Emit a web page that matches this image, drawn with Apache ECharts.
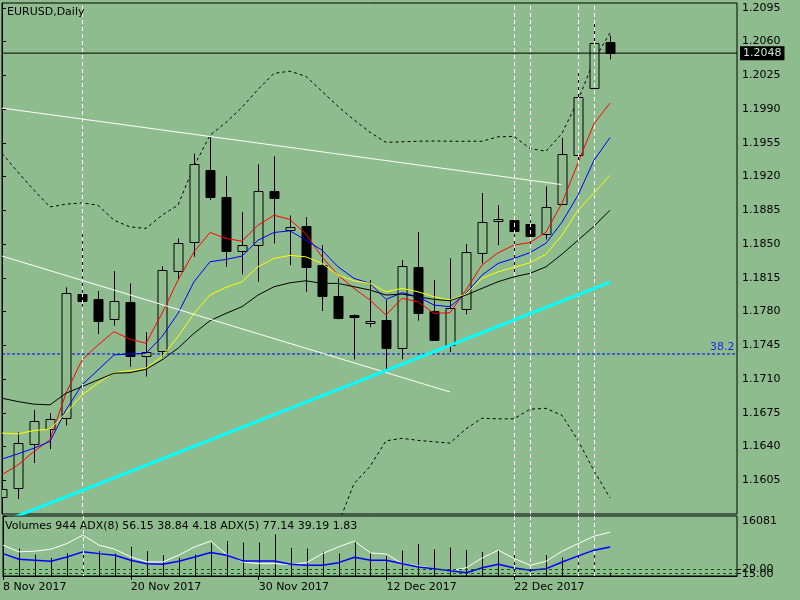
<!DOCTYPE html>
<html><head><meta charset="utf-8">
<script src="https://cdn.jsdelivr.net/npm/echarts@6/dist/echarts.min.js"></script>
<style>html,body{margin:0;padding:0;background:#8FBC8F}#c{width:800px;height:600px}</style>
</head><body><div id="c"></div><script>
// ---- data ----
const dates = ['8 Nov 2017','9 Nov 2017','10 Nov 2017','13 Nov 2017','14 Nov 2017','15 Nov 2017','16 Nov 2017','17 Nov 2017',
 '20 Nov 2017','21 Nov 2017','22 Nov 2017','23 Nov 2017','24 Nov 2017','27 Nov 2017','28 Nov 2017','29 Nov 2017',
 '30 Nov 2017','1 Dec 2017','4 Dec 2017','5 Dec 2017','6 Dec 2017','7 Dec 2017','8 Dec 2017','11 Dec 2017',
 '12 Dec 2017','13 Dec 2017','14 Dec 2017','15 Dec 2017','18 Dec 2017','19 Dec 2017','20 Dec 2017','21 Dec 2017',
 '22 Dec 2017','26 Dec 2017','27 Dec 2017','28 Dec 2017','29 Dec 2017','2 Jan 2018','3 Jan 2018'];
const dateLabelIdx = [0, 8, 16, 24, 32];

const open  = [1.15876,1.15969,1.16425,1.16580,1.16694,1.17981,1.17929,1.17719,1.17895,1.17342,1.17394,1.18216,1.18517,1.19265,1.18983,1.18423,1.18492,1.19048,1.18641,1.18682,1.18281,1.17961,1.17761,1.17678,1.17712,1.17419,1.18261,1.17805,1.17453,1.17823,1.18403,1.18734,1.18748,1.18713,1.18599,1.18920,1.19428,1.20122,1.20598];
const close = [1.15959,1.16435,1.16666,1.16684,1.17989,1.17912,1.17705,1.17906,1.17339,1.17384,1.18227,1.18506,1.19335,1.18989,1.18430,1.18486,1.19055,1.18978,1.18672,1.18264,1.17964,1.17736,1.17743,1.17698,1.17425,1.18271,1.17788,1.17505,1.17839,1.18416,1.18727,1.18758,1.18637,1.18587,1.18889,1.19438,1.20028,1.20588,1.20480];
const low   = [1.15848,1.15855,1.16228,1.16373,1.16618,1.17850,1.17567,1.17653,1.17228,1.17125,1.17326,1.18137,1.18368,1.18955,1.18264,1.18185,1.18109,1.18506,1.18281,1.18005,1.17805,1.17719,1.17305,1.17637,1.17194,1.17305,1.17705,1.17498,1.17377,1.17771,1.18299,1.18489,1.18178,1.18471,1.18548,1.18903,1.19369,1.20110,1.20415];
const high  = [1.15983,1.16549,1.16780,1.16746,1.18051,1.18603,1.18012,1.18219,1.18092,1.17585,1.18271,1.18558,1.19438,1.19610,1.19203,1.18830,1.19327,1.19410,1.18796,1.18779,1.18489,1.18144,1.17770,1.18126,1.17919,1.18333,1.18626,1.18126,1.18351,1.18499,1.19030,1.18903,1.18782,1.18799,1.19099,1.19600,1.20273,1.20819,1.20663];

const maRed    = [1.16107,1.16210,1.16348,1.16469,1.16953,1.17298,1.17453,1.17591,1.17512,1.17471,1.17781,1.18126,1.18419,1.18620,1.18558,1.18530,1.18696,1.18799,1.18755,1.18603,1.18367,1.18178,1.18040,1.17919,1.17764,1.17937,1.17901,1.17781,1.17788,1.18023,1.18282,1.18409,1.18489,1.18515,1.18623,1.18924,1.19343,1.19749,1.19962];
const maBlue   = [1.16270,1.16324,1.16383,1.16452,1.16780,1.17039,1.17194,1.17350,1.17360,1.17367,1.17539,1.17781,1.18109,1.18316,1.18340,1.18375,1.18540,1.18620,1.18637,1.18540,1.18437,1.18264,1.18144,1.18092,1.17926,1.17995,1.17953,1.17867,1.17850,1.17989,1.18178,1.18299,1.18351,1.18411,1.18509,1.18727,1.19006,1.19369,1.19604];
const maYellow = [1.16539,1.16531,1.16566,1.16580,1.16746,1.16935,1.17057,1.17166,1.17187,1.17212,1.17332,1.17539,1.17781,1.17971,1.18051,1.18109,1.18264,1.18351,1.18382,1.18367,1.18299,1.18178,1.18119,1.18092,1.18005,1.18040,1.18005,1.17953,1.17919,1.17981,1.18144,1.18212,1.18258,1.18307,1.18395,1.18592,1.18851,1.19030,1.19213];
const maBlack  = [1.16901,1.16866,1.16839,1.16832,1.16953,1.17021,1.17091,1.17160,1.17166,1.17201,1.17298,1.17419,1.17574,1.17705,1.17781,1.17850,1.17971,1.18057,1.18098,1.18119,1.18092,1.18092,1.18057,1.18023,1.17971,1.17981,1.17953,1.17926,1.17912,1.17971,1.18040,1.18109,1.18160,1.18196,1.18264,1.18395,1.18540,1.18685,1.18851];
const bbUpper  = [1.19441,1.19245,1.19058,1.18885,1.18913,1.18927,1.18903,1.18747,1.18678,1.18662,1.18799,1.18903,1.19307,1.19628,1.19762,1.19918,1.20104,1.20270,1.20293,1.20239,1.20083,1.19928,1.19788,1.19659,1.19555,1.19560,1.19566,1.19569,1.19566,1.19566,1.19566,1.19612,1.19617,1.19490,1.19462,1.19648,1.19990,1.20404,1.20691];
const bbLower  = [null,null,null,null,null,null,null,null,null,null,null,null,null,null,null,null,null,null,null,null,1.15227,1.15589,1.16014,1.16193,1.16459,1.16485,1.16464,1.16449,1.16435,1.16583,1.16694,1.16687,1.16687,1.16787,1.16796,1.16723,1.16464,1.16148,1.15866];

const trendWhite1 = [[0, 1.19910], [34.96, 1.19117]];
const trendWhite2 = [[0, 1.18375], [28, 1.16966]];
const trendCyan   = [[0, 1.15616], [38, 1.18106]];
const priceLine = 1.2048;
const fibLevel = 1.1736;
const fibLabel = '38.2';
const vLines = [5, 32, 33, 36, 37];

const volume = [6000,7355,5738,4849,6115,6654,6654,6008,7813,6654,5577,4849,5738,8971,9348,8971,8971,11126,7543,7355,6466,6008,9348,6277,5388,6816,8621,7085,7624,6924,6466,6924,6654,1967,5577,4930,5738,6924,944];
const adx5 = [58.7,49.2,50.2,53.0,61.0,72.9,58.7,53.0,42.0,34.9,34.9,44.5,56.3,64.4,45.3,34.9,32.5,32.5,31.1,33.9,46.7,56.3,64.4,47.7,45.9,32.5,29.2,25.4,22.5,26.8,40.6,51.6,39.6,30.2,35.9,50.2,61.0,71.5,77.1];
const adx8 = [46.7,38.8,37.4,35.9,42.0,49.2,46.7,44.5,37.4,32.5,31.7,35.9,42.0,48.2,44.5,36.4,36.4,36.4,31.7,30.2,30.2,33.9,41.6,37.4,37.4,32.5,27.8,25.4,22.5,19.7,26.8,31.7,26.4,23.1,25.4,34.9,43.5,51.6,56.2];
const adxLevels = [20, 15];
const volMax = 16081;
const titleText = 'EURUSD,Daily';
const subText = 'Volumes 944 ADX(8) 56.15 38.84 4.18 ADX(5) 77.14 39.19 1.83';

// ---- chart ----
const BG = '#8FBC8F';
const FONT = 'DejaVu Sans';
const XMAX = 735 / 16;
const pair = arr => arr.map((v, i) => [i, v]);
const candleData = open.map((o, i) => [i, o, close[i], low[i], high[i]]);

function candleItem(params, api) {
  const k = api.value(0), o = api.value(1), c = api.value(2), l = api.value(3), h = api.value(4);
  const pO = api.coord([k, o]), pC = api.coord([k, c]), pL = api.coord([k, l]), pH = api.coord([k, h]);
  const x = Math.round(pO[0]) + 0.5;
  const top = Math.round(Math.min(pO[1], pC[1])) + 0.5;
  const bot = Math.round(Math.max(pO[1], pC[1])) + 0.5;
  const bull = c >= o;
  return {type: 'group', children: [
    {type: 'line', shape: {x1: x, y1: pH[1], x2: x, y2: pL[1]}, style: {stroke: '#000', lineWidth: 1}},
    {type: 'rect', shape: {x: x - 4.5, y: top, width: 9, height: Math.max(1, bot - top)},
     style: {fill: bull ? BG : '#000', stroke: '#000', lineWidth: 1}}
  ]};
}
function volItem(params, api) {
  const k = api.value(0);
  const p0 = api.coord([k, 0]), p1 = api.coord([k, api.value(1)]);
  const x = Math.round(p0[0]) + 0.5;
  return {type: 'line', shape: {x1: x, y1: p0[1], x2: x, y2: p1[1]}, style: {stroke: '#000', lineWidth: 1}};
}
const lbl = {color: '#000', fontFamily: FONT, fontSize: 11};
const vMark = {silent: true, symbol: ['none', 'none'], label: {show: false},
  lineStyle: {color: '#ffffff', type: [4, 3], width: 1}, data: vLines.map(v => ({xAxis: v}))};
const maLine = (data, color) => ({type: 'line', xAxisIndex: 0, yAxisIndex: 0, data: pair(data), symbol: 'none',
  lineStyle: {color, width: 1}, z: 4});
const hLine = (v, style, z) => ({type: 'line', xAxisIndex: 0, yAxisIndex: 0, data: [[0, v], [XMAX, v]],
  symbol: 'none', lineStyle: style, z: z, silent: true});
const levelAxis = (vals) => ({gridIndex: 1, type: 'value', position: 'right', min: 12.4, max: 80.6,
  axisLine: {show: false},
  axisTick: {show: true, length: 4, lineStyle: {color: '#000'}, customValues: vals},
  splitLine: {show: false},
  axisLabel: Object.assign({customValues: vals, margin: 5, formatter: v => v.toFixed(2)}, lbl)});

const option = {
  animation: false,
  backgroundColor: BG,
  textStyle: {fontFamily: FONT, fontSize: 11, color: '#000'},
  title: [
    {text: titleText, left: 7, top: 7, padding: 0, textStyle: {fontFamily: FONT, fontSize: 11, fontWeight: 'normal', color: '#000'}},
    {text: subText, left: 5, top: 521, padding: 0, textStyle: {fontFamily: FONT, fontSize: 11, fontWeight: 'normal', color: '#000'}}
  ],
  grid: [
    {left: 2, right: 63, top: 3, bottom: 86, show: true, borderColor: '#000', borderWidth: 1},
    {left: 2, right: 63, top: 516, height: 60, show: true, borderColor: '#000', borderWidth: 1}
  ],
  xAxis: [
    {gridIndex: 0, type: 'value', min: 0, max: XMAX, show: false},
    {gridIndex: 1, type: 'value', min: 0, max: XMAX, interval: 8,
     axisLine: {show: true, lineStyle: {color: '#000'}},
     axisTick: {show: true, length: 4, lineStyle: {color: '#000'}, customValues: dateLabelIdx},
     splitLine: {show: false},
     axisLabel: Object.assign({customValues: dateLabelIdx, align: 'left', margin: 6,
       formatter: v => dates[Math.round(v)] || ''}, lbl)}
  ],
  yAxis: [
    {gridIndex: 0, type: 'value', position: 'right', min: 1.1570, max: 1.2100, interval: 0.0035,
     axisLine: {show: true, lineStyle: {color: '#000'}},
     axisTick: {show: true, length: 4, lineStyle: {color: '#000'}},
     splitLine: {show: false},
     axisLabel: Object.assign({showMinLabel: false, margin: 5, formatter: v => v.toFixed(4)}, lbl)},
    {gridIndex: 1, type: 'value', position: 'right', min: 0, max: volMax, interval: volMax,
     axisLine: {show: true, lineStyle: {color: '#000'}},
     axisTick: {show: true, length: 4, lineStyle: {color: '#000'}},
     splitLine: {show: false},
     axisLabel: Object.assign({showMinLabel: false, margin: 5, verticalAlign: 'top', formatter: v => String(Math.round(v))}, lbl)},
    {gridIndex: 1, type: 'value', position: 'right', min: 15, max: 100, show: false},
    levelAxis([adxLevels[0]]),
    levelAxis([adxLevels[1]])
  ],
  series: [
    {type: 'line', xAxisIndex: 0, yAxisIndex: 0, data: pair(bbUpper), symbol: 'none',
     lineStyle: {color: '#000', width: 1, type: [3, 3]}, z: 1, markLine: vMark},
    {type: 'line', xAxisIndex: 0, yAxisIndex: 0, data: pair(bbLower), symbol: 'none',
     lineStyle: {color: '#000', width: 1, type: [3, 3]}, z: 1},
    hLine(fibLevel, {color: '#0000ff', type: [3, 2], width: 1}, 2),
    {type: 'scatter', xAxisIndex: 0, yAxisIndex: 0, data: [[XMAX, fibLevel]], symbolSize: 1,
     itemStyle: {color: 'rgba(0,0,0,0)'}, silent: true, z: 6,
     label: {show: true, position: 'left', distance: 2, offset: [0, -7], formatter: fibLabel,
             color: '#0000ff', fontFamily: FONT, fontSize: 11}},
    {type: 'custom', xAxisIndex: 0, yAxisIndex: 0, data: candleData, renderItem: candleItem,
     encode: {x: 0, y: [1, 2, 3, 4]}, clip: true, z: 3},
    maLine(maRed, '#ff0000'),
    maLine(maBlue, '#0000ff'),
    maLine(maYellow, '#ffff00'),
    maLine(maBlack, '#000000'),
    Object.assign(hLine(priceLine, {color: '#000', type: 'solid', width: 1}, 5), {
      endLabel: {show: true, formatter: priceLine.toFixed(4), backgroundColor: '#000', color: '#c8e4c8',
                 padding: [2, 3, 1, 3], distance: 3, fontFamily: FONT, fontSize: 11}}),
    {type: 'line', xAxisIndex: 0, yAxisIndex: 0, data: trendWhite1, symbol: 'none', lineStyle: {color: '#ffffff', width: 1}, z: 5},
    {type: 'line', xAxisIndex: 0, yAxisIndex: 0, data: trendWhite2, symbol: 'none', lineStyle: {color: '#ffffff', width: 1}, z: 5},
    {type: 'line', xAxisIndex: 0, yAxisIndex: 0, data: trendCyan, symbol: 'none', lineStyle: {color: '#00ffff', width: 3}, z: 5},
    {type: 'custom', xAxisIndex: 1, yAxisIndex: 1, data: pair(volume), renderItem: volItem,
     encode: {x: 0, y: 1}, clip: true, z: 2},
    {type: 'line', xAxisIndex: 1, yAxisIndex: 2, data: pair(adx5), symbol: 'none',
     lineStyle: {color: '#ffffff', width: 1}, z: 3, markLine: vMark},
    {type: 'line', xAxisIndex: 1, yAxisIndex: 2, data: pair(adx8), symbol: 'none',
     lineStyle: {color: '#0000ff', width: 1.5}, z: 3},
    {type: 'line', xAxisIndex: 1, yAxisIndex: 3, data: [], symbol: 'none', z: 2,
     markLine: {silent: true, symbol: ['none', 'none'], label: {show: false},
       lineStyle: {color: '#006400', type: [3, 3], width: 1}, data: adxLevels.map(v => ({yAxis: v}))}}
  ]
};
const chart = echarts.init(document.getElementById('c'), null, {renderer: 'canvas'});
chart.setOption(option);
</script></body></html>
